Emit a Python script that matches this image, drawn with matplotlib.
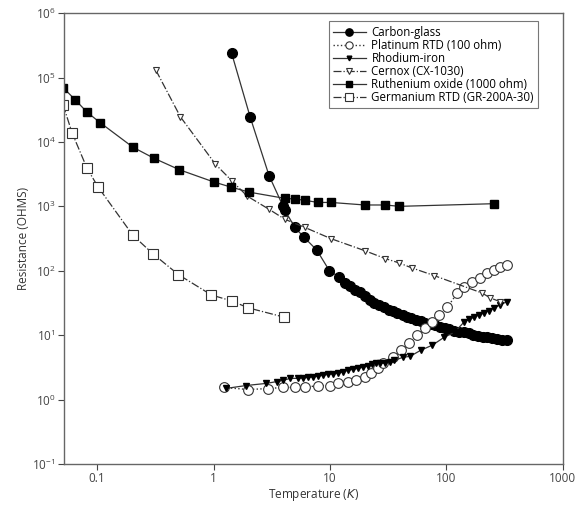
import matplotlib
matplotlib.use("Agg")
import matplotlib.pyplot as plt

plt.rcParams['font.family'] = ['Open Sans', 'DejaVu Sans']

# Carbon-glass
cg_T = [1.43, 2.07, 3.0, 3.96, 4.1, 5.0, 6.0, 7.7, 9.9, 12.0, 13.5,
        15, 16.5, 18, 20, 22, 24, 26.5, 29, 32, 35, 38, 42, 46, 50, 55, 60,
        66, 73, 80, 88, 97, 106, 117, 128, 141, 155, 170, 187, 205, 225,
        248, 272, 300, 330]
cg_R = [2.4e5, 2.4e4, 3000, 1000, 870, 470, 330, 210, 100, 80, 65,
        57, 51, 46, 40, 35.5, 32, 29, 27, 25, 23.5, 22, 20.5, 19.3, 18.3,
        17.3, 16.5, 15.7, 15, 14.2, 13.5, 12.8, 12.3, 11.7, 11.3, 11, 10.6,
        10.2, 9.8, 9.5, 9.2, 8.9, 8.7, 8.5, 8.4]

# Platinum RTD (100 ohm)
pt_T = [1.22, 1.99, 2.95, 3.96, 5.0, 6.1, 7.9, 10, 11.7, 14.3, 16.7, 19.9,
        22.4, 25.7, 28.5, 34.5, 40.5, 48, 56, 65, 76, 87, 102, 124, 142,
        167, 195, 225, 257, 290, 330]
pt_R = [1.54, 1.43, 1.48, 1.54, 1.54, 1.54, 1.65, 1.65, 1.78, 1.84, 1.98,
        2.2, 2.55, 3.05, 3.65, 4.5, 5.8, 7.5, 10, 12.8, 16, 20.5, 27, 45,
        56, 67, 78, 93, 104, 116, 124]

# Rhodium-iron
rh_T = [1.29, 1.91, 2.84, 3.5, 3.96, 4.55, 5.3, 5.9, 6.5, 7.2, 7.9, 8.7,
        9.6, 10.6, 11.7, 13.0, 14.3, 15.8, 17.4, 19.2, 21.1, 22.9, 24.7,
        27, 29.5, 32.5, 35.8, 42, 49, 60, 76, 96, 117, 142, 157, 173, 190,
        210, 232, 257, 290, 330]
rh_R = [1.49, 1.65, 1.78, 1.9, 1.98, 2.13, 2.13, 2.17, 2.2, 2.25, 2.3, 2.38,
        2.45, 2.5, 2.55, 2.7, 2.85, 2.95, 3.05, 3.18, 3.3, 3.5, 3.65,
        3.65, 3.65, 3.85, 4.06, 4.5, 4.7, 5.8, 7.0, 9.3, 11, 16, 17.5, 19,
        20.5, 22, 24, 26.5, 29.5, 33]

# Cernox (CX-1030)
cx_T = [0.32, 0.52, 1.04, 1.45, 1.95, 3.0, 4.1, 6.1, 10.2, 19.9, 30, 38.9,
        50.3, 78.7, 203, 237, 290]
cx_R = [1.3e5, 2.45e4, 4500, 2450, 1440, 900, 630, 470, 315, 205, 154, 133,
        111, 84, 45, 38, 33]

# Ruthenium oxide (1000 ohm)
ru_T = [0.051, 0.065, 0.082, 0.106, 0.203, 0.307, 0.51, 1.0, 1.4, 2.03,
        4.1, 5.0, 6.1, 7.9, 10.2, 19.9, 30, 39.5, 257]
ru_R = [7e4, 4.5e4, 2.9e4, 2e4, 8.3e3, 5.6e3, 3.7e3, 2.4e3, 2e3, 1.66e3,
        1.33e3, 1.3e3, 1.24e3, 1.15e3, 1.15e3, 1.05e3, 1.05e3, 1000, 1.1e3]

# Germanium RTD (GR-200A-30)
ge_T = [0.051, 0.061, 0.082, 0.102, 0.203, 0.30, 0.50, 0.96, 1.43, 1.99, 4.05]
ge_R = [3.8e4, 1.38e4, 3.9e3, 2e3, 355, 185, 87, 42, 34, 26.5, 19]

fig = plt.figure(figsize=(5.82, 5.07), dpi=100)
ax = fig.add_axes([0.110, 0.085, 0.857, 0.889])

lc = '#333333'
ax.plot(cg_T, cg_R, '-', color=lc, lw=0.9, marker='o', ms=7,
        mfc='black', mec='black', label='Carbon-glass')
ax.plot(pt_T, pt_R, ':', color=lc, lw=1.0, marker='o', ms=7,
        mfc='white', mec='#333333', mew=0.8, label='Platinum RTD (100 ohm)')
ax.plot(rh_T, rh_R, '-', color=lc, lw=0.9, marker='v', ms=4.5,
        mfc='black', mec='black', label='Rhodium-iron')
ax.plot(cx_T, cx_R, '-.', color=lc, lw=0.9, marker='v', ms=5,
        mfc='white', mec='#333333', mew=0.8, label='Cernox (CX-1030)')
ax.plot(ru_T, ru_R, '-', color=lc, lw=0.9, marker='s', ms=6,
        mfc='black', mec='black', label='Ruthenium oxide (1000 ohm)')
ax.plot(ge_T, ge_R, '-.', color=lc, lw=0.9, marker='s', ms=7,
        mfc='white', mec='#333333', mew=0.8, label='Germanium RTD (GR-200A-30)')

ax.set_xscale('log')
ax.set_yscale('log')
ax.set_xlim(0.052, 1000)
ax.set_ylim(0.1, 1e6)
ax.set_xticks([0.1, 1, 10, 100, 1000])
ax.set_xticklabels(['0.1', '1', '10', '100', '1000'])
ax.minorticks_off()
ax.tick_params(labelsize=8.5, colors='#444444', length=4, width=0.8, pad=2)
for s in ax.spines.values():
    s.set_color('#666666')
    s.set_linewidth(1.0)

ax.set_xlabel('Temperature ($\\it{K}$)', fontsize=8.5, color='#333333', labelpad=1)
ax.set_ylabel('Resistance (OHMS)', fontsize=8.5, color='#333333', labelpad=2)

leg = ax.legend(loc='upper right', bbox_to_anchor=(0.958, 0.99), fontsize=8.3,
                frameon=True, fancybox=False, edgecolor='#555555',
                handlelength=2.8, handletextpad=0.5, labelspacing=0.0,
                borderpad=0.4, borderaxespad=0.3, markerscale=0.75)
leg.get_frame().set_linewidth(0.8)

plt.savefig('out.png', dpi=100)
